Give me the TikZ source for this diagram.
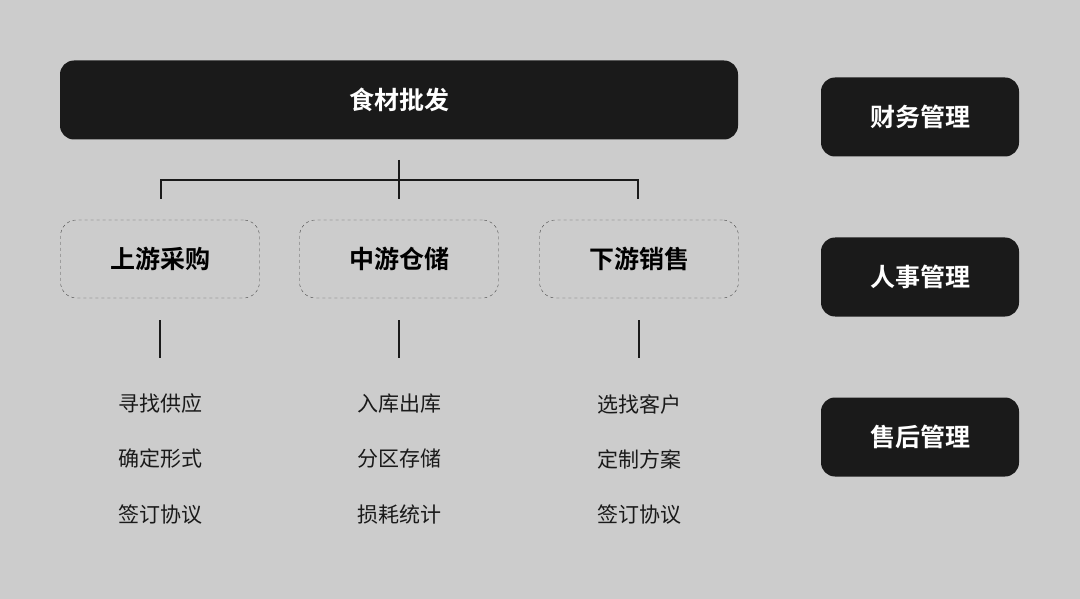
\documentclass[tikz,border=0pt]{standalone}
\usepackage{fontspec}
\newfontfamily\cjk{Noto Sans CJK SC}
\newfontfamily\cjkbold{Noto Sans CJK SC Bold}
\definecolor{bgcol}{HTML}{CCCCCC}
\definecolor{boxcol}{HTML}{1A1A1A}
\tikzset{
  darkbox/.style={fill=boxcol, rounded corners=14pt, text=white, font=\cjkbold\fontsize{25}{30}\selectfont},
  dashbox/.style={draw=boxcol!80, dashed, rounded corners=16pt, minimum width=199pt, minimum height=78pt, font=\cjkbold\fontsize{25}{30}\selectfont},
  item/.style={font=\cjk\fontsize{21}{26}\selectfont, text=boxcol},
  link/.style={draw=boxcol, line width=1.6pt}
}
\begin{document}
\begin{tikzpicture}[x=1pt,y=-1pt]
  \fill[bgcol] (0,0) rectangle (1080,599);
  \useasboundingbox (0,0) rectangle (1080,599);
  % top bar
  \node[darkbox, minimum width=678pt, minimum height=79pt] (wholesale) at (399,100) {食材批发};
  % right column
  \node[darkbox, minimum width=198pt, minimum height=79pt] (finance) at (920,117) {财务管理};
  \node[darkbox, minimum width=198pt, minimum height=79pt] (staff) at (920,277) {人事管理};
  \node[darkbox, minimum width=198pt, minimum height=79pt] (service) at (920,437) {售后管理};
  % three stages
  \node[dashbox] (up) at (160,259) {上游采购};
  \node[dashbox] (mid) at (399,259) {中游仓储};
  \node[dashbox] (down) at (639,259) {下游销售};
  % tree connector
  \coordinate (top) at (399,160);
  \coordinate (bar) at (399,180);
  \coordinate (barL) at (161,180);
  \coordinate (barR) at (638,180);
  \draw[link] (top) -- (399,199);
  \draw[link] (161,199) -- (barL) -- (barR) -- (638,199);
  % item lists
  \foreach \x/\n/\a/\b/\c in {160/u/寻找供应/确定形式/签订协议, 399/m/入库出库/分区存储/损耗统计, 639/d/选找客户/定制方案/签订协议}{
    \coordinate (\n s) at (\x,320);
    \coordinate (\n e) at (\x,358);
    \draw[link] (\n s) -- (\n e);
    \node[item] (\n1) at (\x,404) {\a};
    \node[item] (\n2) at (\x,459) {\b};
    \node[item] (\n3) at (\x,515) {\c};
  }
\end{tikzpicture}
\end{document}
